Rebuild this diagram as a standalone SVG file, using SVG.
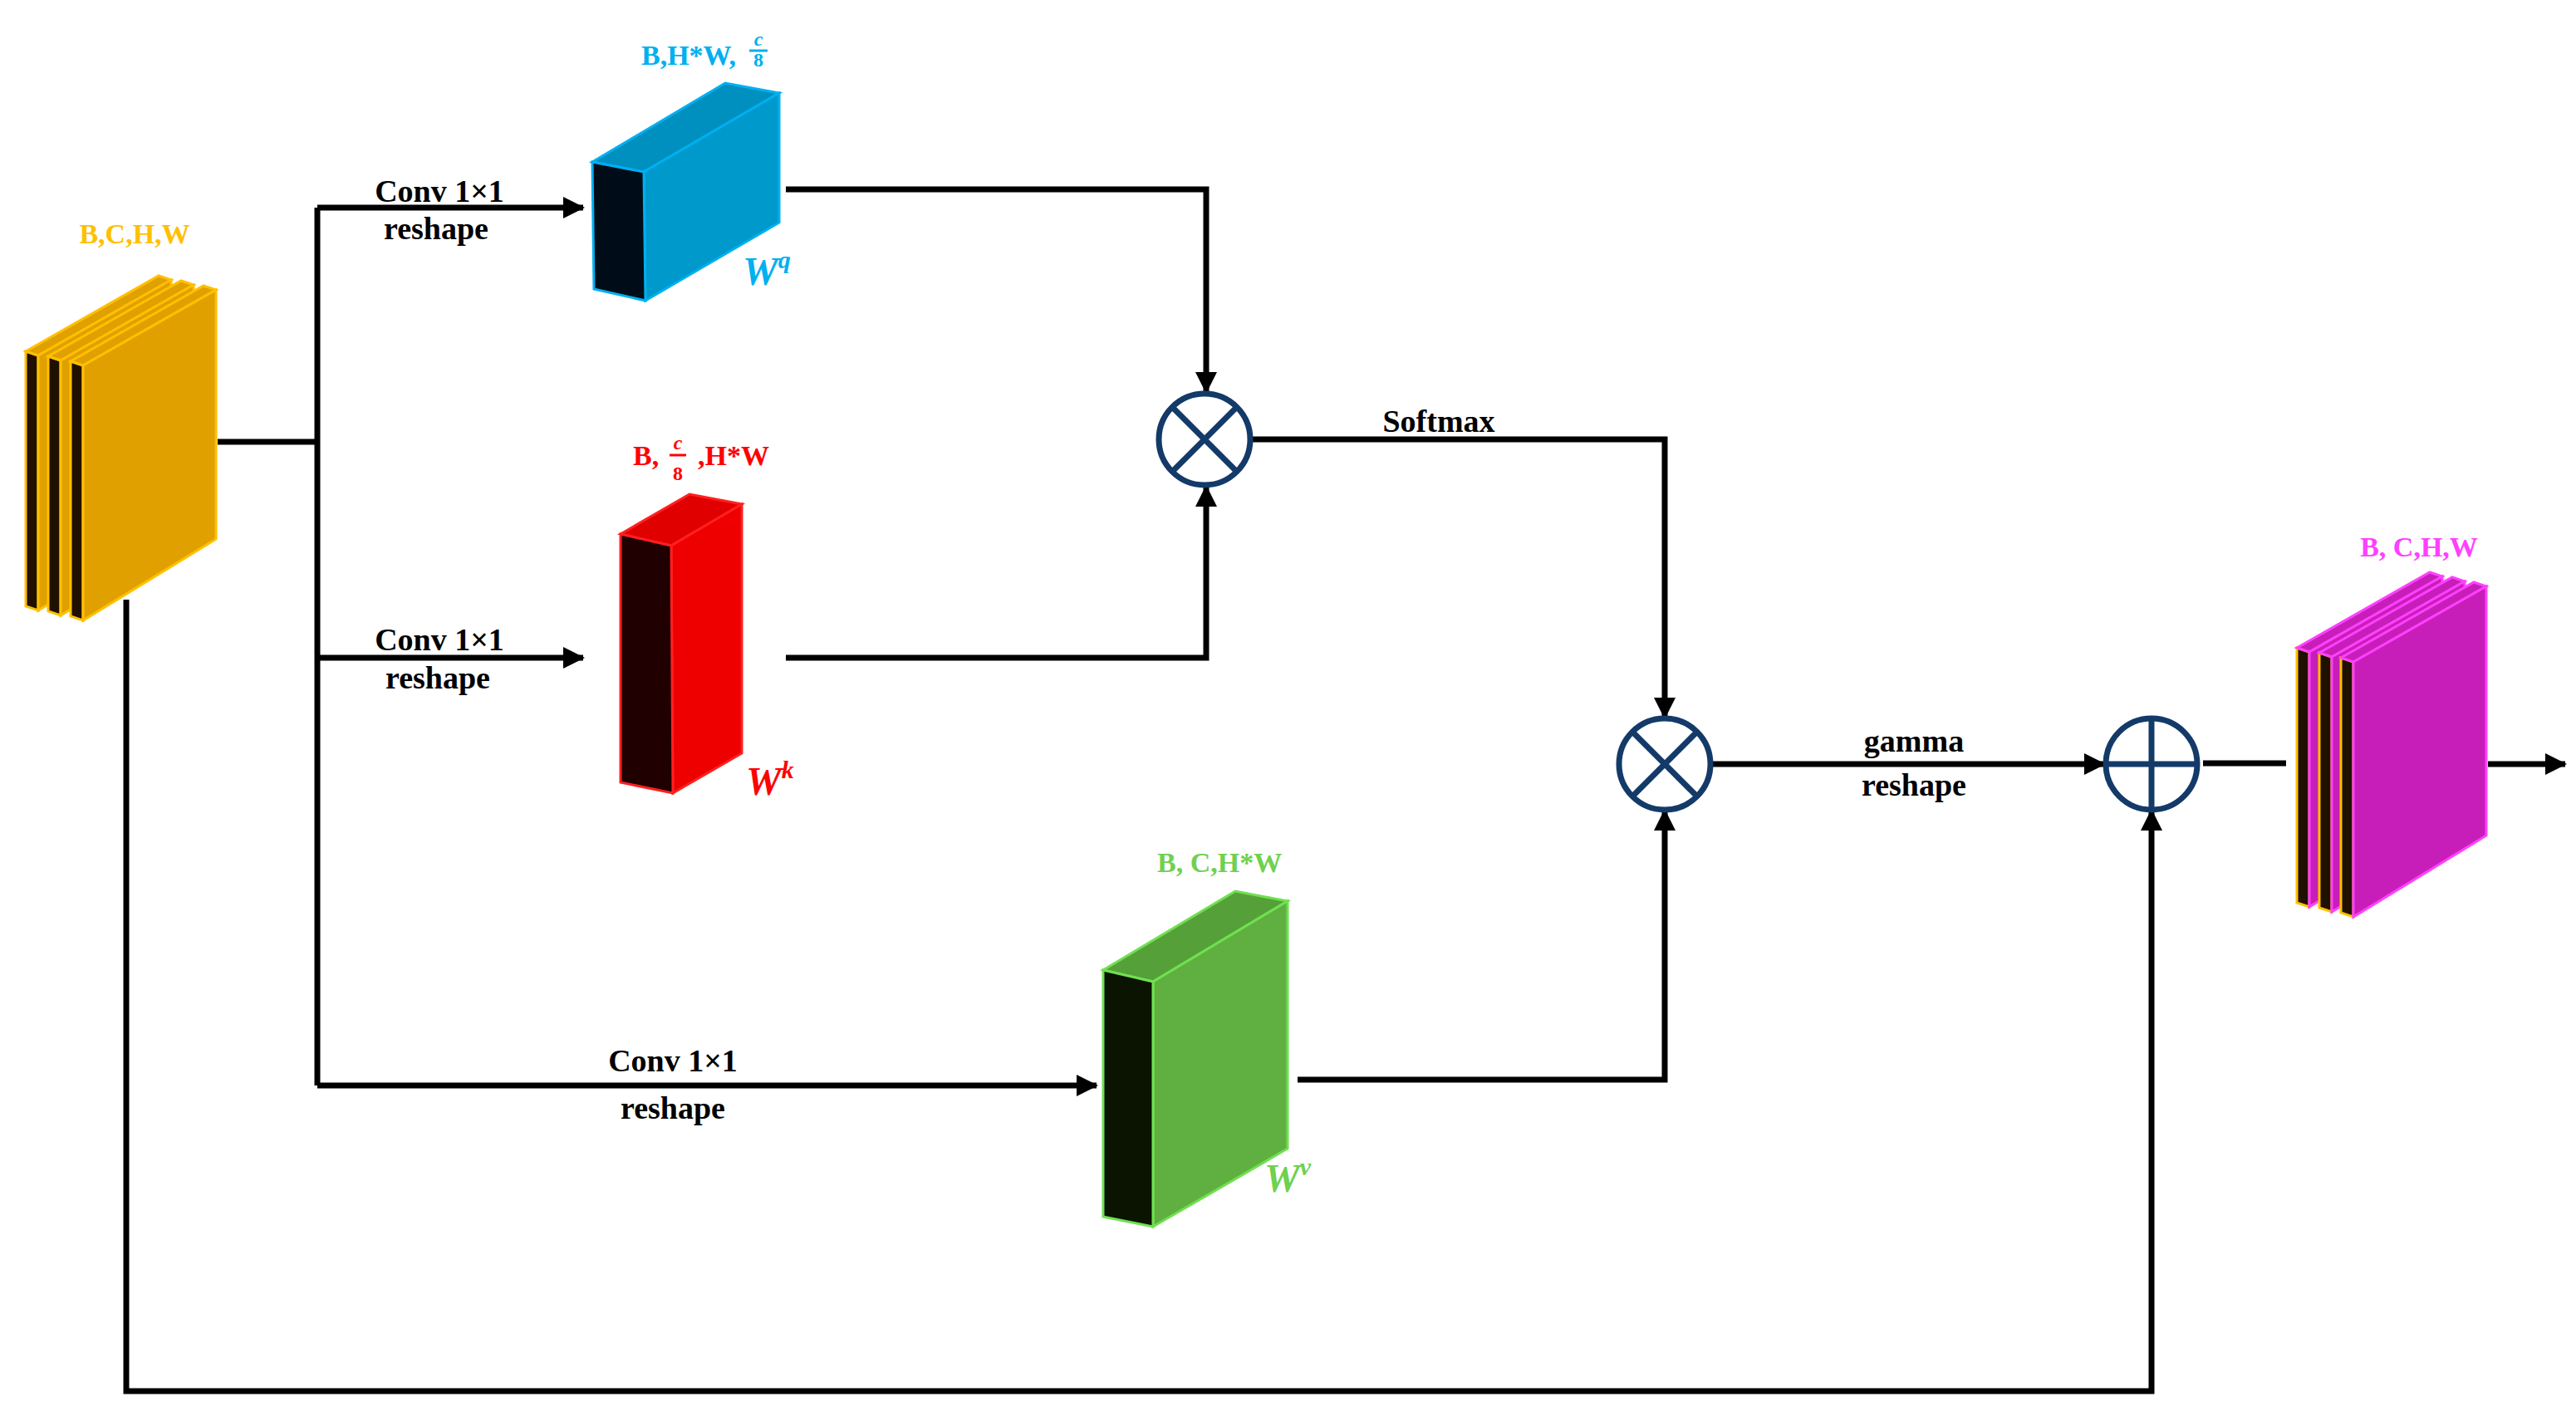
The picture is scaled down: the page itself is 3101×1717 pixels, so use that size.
<svg xmlns="http://www.w3.org/2000/svg" width="3101" height="1717" viewBox="0 0 3101 1717">
<style>
.t{font-family:"Liberation Serif",serif;font-weight:bold;font-size:38px;fill:#000}
.lbl{font-family:"Liberation Serif",serif;font-weight:bold;font-size:34px}
.w{font-family:"Liberation Serif",serif;font-weight:bold;font-style:italic;font-size:48px}
.ws{font-size:30px}
.fr{font-family:"Liberation Serif",serif;font-weight:bold;font-size:24px;text-anchor:middle}
.ln{fill:none;stroke:#000;stroke-width:7}
.op{fill:#fff;stroke:#133a68;stroke-width:7}
.ye{fill:#e0a000;stroke:#ffc000;stroke-width:3}
.yd{fill:#201000;stroke:#ffc000;stroke-width:3}
.pk{fill:#c81eb9;stroke:#ff40ff;stroke-width:3}
.pd{fill:#200018;stroke:#ff40ff;stroke-width:3}
</style>
<defs>
<marker id="ah" markerUnits="userSpaceOnUse" markerWidth="26" markerHeight="26" viewBox="0 0 26 26" refX="24" refY="13" orient="auto">
<path d="M0,0 L26,13 L0,26 Z" fill="#000"/>
</marker>
<g id="plate">
<polygon points="0,0 15,5 15,312 0,307" class="yd"/>
<polygon points="0,0 160,-91 175,-86 15,5"/>
<polygon points="15,5 175,-86 175,214 15,312"/>
</g>
</defs>

<g id="connectors">
<polyline class="ln" points="262,532 382,532"/>
<polyline class="ln" points="382,250 382,1307"/>
<polyline class="ln" points="382,250 702,250" marker-end="url(#ah)"/>
<polyline class="ln" points="382,792 702,792" marker-end="url(#ah)"/>
<polyline class="ln" points="382,1307 1320,1307" marker-end="url(#ah)"/>
<polyline class="ln" points="946,228 1452,228 1452,472" marker-end="url(#ah)"/>
<polyline class="ln" points="946,792 1452,792 1452,586" marker-end="url(#ah)"/>
<polyline class="ln" points="1505,529 2004,529 2004,864" marker-end="url(#ah)"/>
<polyline class="ln" points="1562,1300 2004,1300 2004,976" marker-end="url(#ah)"/>
<polyline class="ln" points="2060,920 2533,920" marker-end="url(#ah)"/>
<polyline class="ln" points="2652,919 2752,919"/>
<polyline class="ln" points="2995,920 3088,920" marker-end="url(#ah)"/>
<polyline class="ln" points="152,722 152,1675 2590,1675 2590,976" marker-end="url(#ah)"/>
<text class="t" x="529" y="243" text-anchor="middle">Conv 1×1</text>
<text class="t" x="525" y="288" text-anchor="middle">reshape</text>
<text class="t" x="529" y="783" text-anchor="middle">Conv 1×1</text>
<text class="t" x="527" y="829" text-anchor="middle">reshape</text>
<text class="t" x="810" y="1290" text-anchor="middle">Conv 1×1</text>
<text class="t" x="810" y="1347" text-anchor="middle">reshape</text>
<text class="t" x="1732" y="520" text-anchor="middle">Softmax</text>
<text class="t" x="2304" y="905" text-anchor="middle">gamma</text>
<text class="t" x="2304" y="958" text-anchor="middle">reshape</text>
</g>

<g id="input">
<text class="lbl" x="162" y="293" text-anchor="middle" fill="#ffc000">B,C,H,W</text>
<g transform="translate(31,423)" class="ye"><use href="#plate"/></g>
<g transform="translate(58,429)" class="ye"><use href="#plate"/></g>
<g transform="translate(85,435)" class="ye"><use href="#plate"/></g>
</g>

<g id="query">
<polygon points="713,195 873,100 938,112 775,207" fill="#0090c0" stroke="#00b0f0" stroke-width="3"/>
<polygon points="775,207 938,112 938,268 777,362" fill="#0099cc" stroke="#00b0f0" stroke-width="3"/>
<polygon points="713,195 775,207 777,362 715,348" fill="#000d18" stroke="#00b0f0" stroke-width="3"/>
<text class="lbl" x="772" y="78" fill="#00b0f0">B,H*W,</text>
<text class="fr" x="913" y="55" fill="#00b0f0" font-style="italic">c</text>
<line x1="902" y1="61" x2="924" y2="61" stroke="#00b0f0" stroke-width="3"/>
<text class="fr" x="913" y="80" fill="#00b0f0">8</text>
<text class="w" x="894" y="343" fill="#00b0f0">W<tspan class="ws" dy="-20">q</tspan></text>
</g>

<g id="key">
<polygon points="747,643 830,595 893,607 808,657" fill="#e00000" stroke="#ff2020" stroke-width="3"/>
<polygon points="808,657 893,607 893,907 810,955" fill="#ee0000" stroke="#ff2020" stroke-width="3"/>
<polygon points="747,643 808,657 810,955 747,942" fill="#200000" stroke="#ff2020" stroke-width="3"/>
<text class="lbl" x="762" y="560" fill="#ff0000">B,</text>
<text class="fr" x="816" y="541" fill="#ff0000" font-style="italic">c</text>
<line x1="806" y1="548" x2="826" y2="548" stroke="#ff0000" stroke-width="3"/>
<text class="fr" x="816" y="578" fill="#ff0000">8</text>
<text class="lbl" x="840" y="560" fill="#ff0000">,H*W</text>
<text class="w" x="898" y="957" fill="#ff0000">W<tspan class="ws" dy="-20">k</tspan></text>
</g>

<g id="value">
<polygon points="1328,1168 1487,1073 1550,1085 1388,1182" fill="#55a038" stroke="#70e050" stroke-width="3"/>
<polygon points="1388,1182 1550,1085 1550,1383 1388,1477" fill="#5fb040" stroke="#70e050" stroke-width="3"/>
<polygon points="1328,1168 1388,1182 1388,1477 1328,1465" fill="#0a1400" stroke="#70e050" stroke-width="3"/>
<text class="lbl" x="1393" y="1050" fill="#70d050">B, C,H*W</text>
<text class="w" x="1522" y="1435" fill="#70d050">W<tspan class="ws" dy="-20">v</tspan></text>
</g>

<g id="mul1">
<circle cx="1450" cy="529" r="55" class="op"/>
<path d="M1411,490 L1489,568 M1489,490 L1411,568" stroke="#133a68" stroke-width="7"/>
</g>
<g id="mul2">
<circle cx="2004" cy="920" r="55" class="op"/>
<path d="M1965,881 L2043,959 M2043,881 L1965,959" stroke="#133a68" stroke-width="7"/>
</g>
<g id="add">
<circle cx="2590" cy="920" r="55" class="op"/>
<path d="M2535,920 L2645,920 M2590,865 L2590,975" stroke="#133a68" stroke-width="7"/>
</g>

<g id="output">
<text class="lbl" x="2912" y="670" text-anchor="middle" fill="#ff40ff">B, C,H,W</text>
<g transform="translate(2765,780)" class="pk"><use href="#plate" style="--x:0"/></g>
<g transform="translate(2792,786)" class="pk"><use href="#plate"/></g>
<g transform="translate(2818,792)" class="pk"><use href="#plate"/></g>
</g>
</svg>
